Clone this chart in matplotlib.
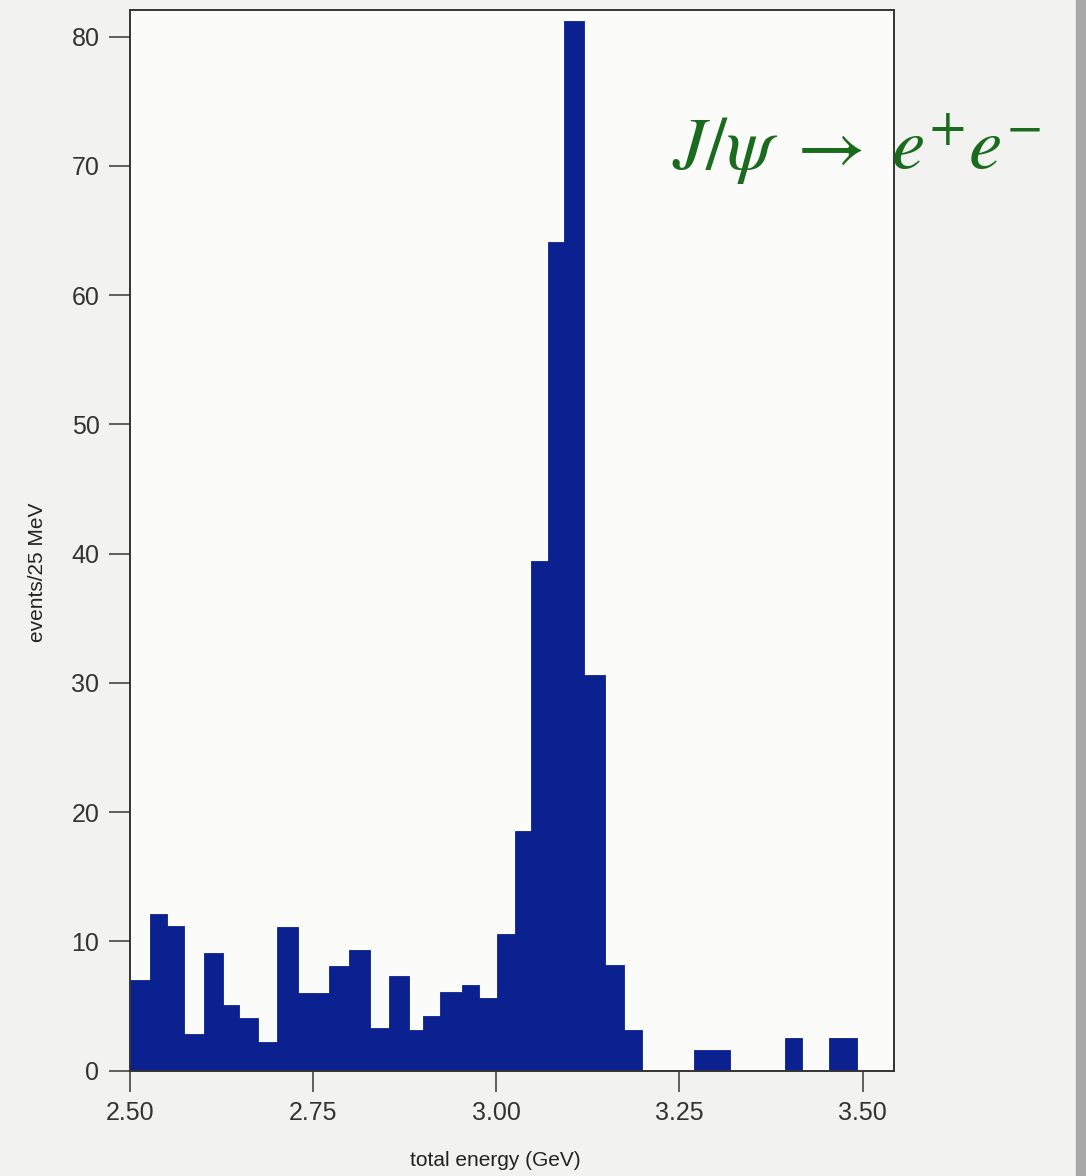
import numpy as np
import matplotlib
matplotlib.use("Agg")
import matplotlib.pyplot as plt
from matplotlib.patches import Rectangle

## Histogram (bin edges in GeV, counts per bin)
edges = [2.500, 2.527, 2.550, 2.574, 2.601, 2.627, 2.649, 2.675, 2.701, 2.729,
         2.750, 2.772, 2.799, 2.828, 2.853, 2.881, 2.900, 2.923, 2.953, 2.976,
         3.001, 3.026, 3.048, 3.071, 3.092, 3.120, 3.149, 3.174, 3.199]
counts = [7.0, 12.1, 11.2, 2.8, 9.1, 5.1, 4.1, 2.2, 11.1, 6.0,
          6.0, 8.1, 9.3, 3.3, 7.3, 3.1, 4.2, 6.1, 6.6, 5.6,
          10.6, 18.5, 39.4, 64.1, 81.2, 30.6, 8.2, 3.1]

# isolated bars in the tail
tail_lo = [3.270, 3.394, 3.454]
tail_hi = [3.319, 3.418, 3.493]
tail_counts = [1.6, 2.5, 2.5]

xticks = [2.50, 2.75, 3.00, 3.25, 3.50]
xticklabels = ["2.50", "2.75", "3.00", "3.25", "3.50"]
yticks = [0, 10, 20, 30, 40, 50, 60, 70, 80]

BAR = "#0c2190"
GREEN = "#1b6b1e"
narrow = ["Liberation Sans Narrow", "Liberation Sans", "DejaVu Sans"]

lo = np.array(edges[:-1] + tail_lo)
hi = np.array(edges[1:] + tail_hi)
h = np.array(counts + tail_counts)

fig = plt.figure(figsize=(10.86, 11.76), dpi=100, facecolor="#f2f2f0")
ax = fig.add_axes([130 / 1086, 1 - 1070.5 / 1176, 764 / 1086, 1061 / 1176])
ax.set_facecolor("#fbfbfa")

ax.bar(lo, h, width=hi - lo, align="edge", color=BAR, edgecolor=BAR, linewidth=0.6)

ax.set_xlim(2.5, 3.543)
ax.set_ylim(0, 82.1)

ax.set_xticks(xticks)
ax.set_xticklabels(xticklabels, family=narrow, fontsize=18, color="#333333")
ax.set_yticks(yticks)
ax.set_yticklabels([str(t) for t in yticks], family=narrow, fontsize=18, color="#333333")
ax.tick_params(direction="out", length=15, width=1.2, color="#444444", pad=7)

for s in ax.spines.values():
    s.set_linewidth(1.4)
    s.set_color("#333333")

ax.set_xlabel("total energy (GeV)", family=narrow, fontsize=15, color="#222222")
ax.xaxis.set_label_coords(0.478, -0.076)
ax.set_ylabel("events/25 MeV", family=narrow, fontsize=15, color="#222222")
ax.yaxis.set_label_coords(-0.108, 0.47)

fig.text(672 / 1086, 1 - 170 / 1176, r"$J/\psi\;\rightarrow\;e^{+}e^{-}$",
         fontsize=54, color=GREEN, math_fontfamily="stix", ha="left", va="baseline")

# grey strip at the right edge of the scan
fig.patches.append(Rectangle((1076 / 1086, 0), 10 / 1086, 1, transform=fig.transFigure,
                             color="#a8a8a8", zorder=-1))

fig.savefig("out.png", dpi=100, facecolor=fig.get_facecolor())
